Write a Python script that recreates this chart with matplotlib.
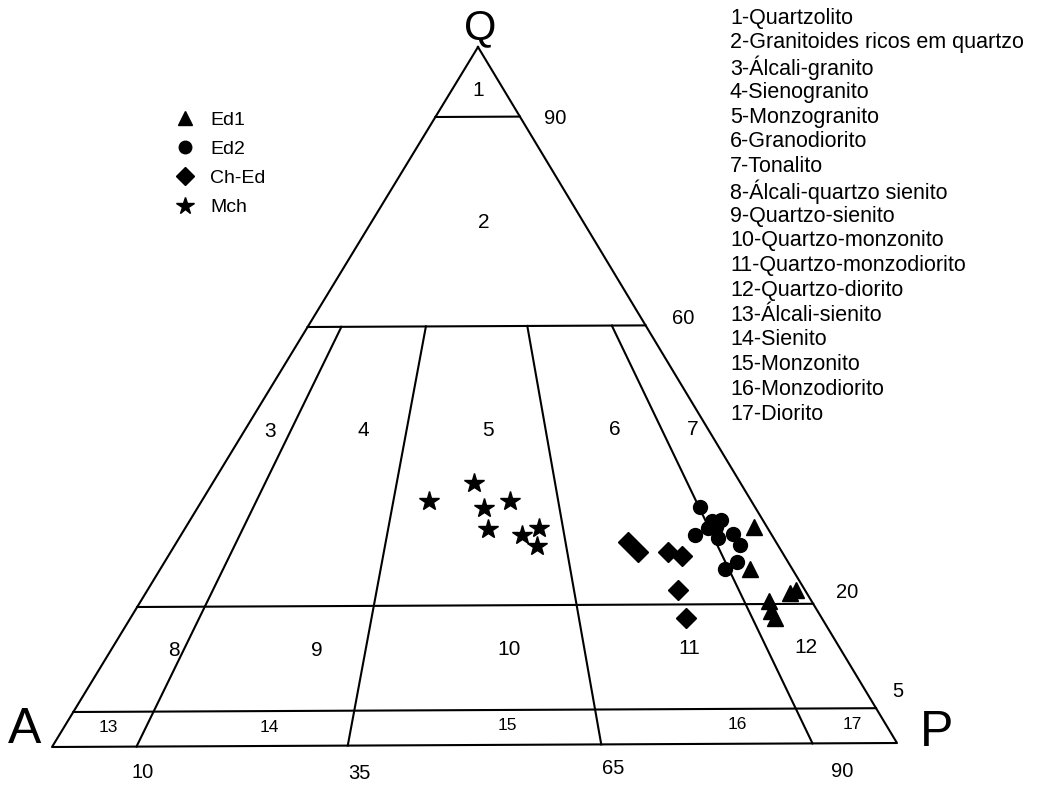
import numpy as np
import matplotlib
matplotlib.use('Agg')
from matplotlib import pyplot as plt
from matplotlib.lines import Line2D

plt.rcParams['font.family'] = ['Liberation Sans', 'DejaVu Sans']

# ternary data, percent (Q, A, P)
ed1_q = [31, 25, 22, 21.5, 20.5, 19, 18]
ed1_a = [1.5, 5, 1, 2, 5, 5.5, 5.5]
ed1_p = [67.5, 70, 77, 76.5, 74.5, 75.5, 76.5]

ed2_q = [34, 32, 32, 31, 31, 30, 29.5, 30, 28.5, 26, 25]
ed2_a = [6.5, 6, 5, 7, 6, 9, 6.5, 4.5, 4.5, 6, 8]
ed2_p = [59.5, 62, 63, 62, 63, 61, 64, 65.5, 67, 68, 67]

ched_q = [29, 27.5, 27.5, 27, 22, 18]
ched_a = [17.5, 17, 13.5, 12, 15, 16]
ched_p = [53.5, 55.5, 59, 61, 63, 66]

mch_q = [35, 37.5, 34, 35, 31, 30, 31, 28.5]
mch_a = [38, 31.5, 32, 28.5, 33, 29.5, 27, 28.5]
mch_p = [27, 31, 34, 36.5, 36, 40.5, 42, 43]

q_levels = [90, 60, 20, 5]
ratios = [10, 35, 65, 90]
names = ['Quartzolito', 'Granitoides ricos em quartzo', 'Álcali-granito',
         'Sienogranito', 'Monzogranito', 'Granodiorito', 'Tonalito',
         'Álcali-quartzo sienito', 'Quartzo-sienito', 'Quartzo-monzonito',
         'Quartzo-monzodiorito', 'Quartzo-diorito', 'Álcali-sienito',
         'Sienito', 'Monzonito', 'Monzodiorito', 'Diorito']

# vertex positions in pixels
VQ = np.array([478., 47.])
VA = np.array([52., 747.])
VP = np.array([897., 743.])


def tern(q, a, p):
    q = np.asarray(q, float); a = np.asarray(a, float); p = np.asarray(p, float)
    s = q + a + p
    x = (q * VQ[0] + a * VA[0] + p * VP[0]) / s
    y = (q * VQ[1] + a * VA[1] + p * VP[1]) / s
    return x, y


def tern_r(q, r):
    # point at quartz level q with P/(A+P) = r (percent)
    rest = 100 - q
    return tern(q, rest * (100 - r) / 100, rest * r / 100)


fig = plt.figure(figsize=(10.43, 7.88), dpi=100)
ax = fig.add_axes([0, 0, 1, 1])
ax.set_xlim(0, 1043)
ax.set_ylim(788, 0)
ax.axis('off')

lw = 1.5
# outline
x, y = tern([100, 0, 0, 100], [0, 100, 0, 0], [0, 0, 100, 0])
ax.plot(x, y, color='black', lw=lw)
for q in q_levels:
    x, y = tern([q, q], [100 - q, 0], [0, 100 - q])
    ax.plot(x, y, color='black', lw=lw)
for r in ratios:
    x0, y0 = tern_r(60, r)
    x1, y1 = tern_r(0, r)
    ax.plot([x0, x1], [y0, y1], color='black', lw=lw)

# field numbers (placed at quartz level, P/(A+P))
fields = [(1, 93.8, 50), (2, 74.8, 53),
          (3, 45.1, 5.6), (4, 45.1, 25.6), (5, 45.1, 52.6), (6, 45.1, 80),
          (7, 45.1, 96.8),
          (8, 13.7, 8.7), (9, 13.7, 28.3), (10, 13.7, 54.7), (11, 13.7, 79.4),
          (12, 13.7, 95.4)]
for n, q, r in fields:
    x, y = tern_r(q, r)
    ax.text(x, y, str(n), fontsize=15, ha='center', va='center')
small = [(13, 2.7, 5.5), (14, 2.7, 25), (15, 2.7, 54), (16, 2.7, 82), (17, 2.7, 95.9)]
for n, q, r in small:
    x, y = tern_r(q, r)
    ax.text(x, y, str(n), fontsize=12.5, ha='center', va='center')

# scale labels
for q, dx, dy in zip(q_levels, [35, 38, 34, 22], [1.5, -7, -11, -17]):
    x, y = tern(q, 0, 100 - q)
    ax.text(x + dx, y + dy, str(q), fontsize=14.5, ha='center', va='center')
for r, dx, dy in zip(ratios, [6, 12, 12, 30], [26, 28, 24, 28]):
    x, y = tern_r(0, r)
    ax.text(x + dx, y + dy, str(r), fontsize=14.5, ha='center', va='center')

ax.text(VQ[0] + 2, VQ[1] - 19, 'Q', fontsize=30, ha='center', va='center')
ax.text(VA[0] - 27, VA[1] - 17, 'A', fontsize=36, ha='center', va='center')
ax.text(VP[0] + 40, VP[1] - 10, 'P', fontsize=36, ha='center', va='center')

# samples
ax.plot(*tern(ed1_q, ed1_a, ed1_p), '^', color='black', ms=12, ls='none', zorder=3)
ax.plot(*tern(ed2_q, ed2_a, ed2_p), 'o', color='black', ms=10, ls='none', zorder=3)
ax.plot(*tern(ched_q, ched_a, ched_p), 'D', color='black', ms=10.5, ls='none', zorder=3)
ax.plot(*tern(mch_q, mch_a, mch_p), '*', color='black', ms=15, ls='none', zorder=3)

handles = [Line2D([], [], marker='^', color='black', ls='none', ms=10),
           Line2D([], [], marker='o', color='black', ls='none', ms=9),
           Line2D([], [], marker='D', color='black', ls='none', ms=9),
           Line2D([], [], marker='*', color='black', ls='none', ms=13)]
ax.legend(handles, ['Ed1', 'Ed2', 'Ch-Ed', 'Mch'], loc='upper left',
          bbox_to_anchor=(177 / 1043, 1 - 111 / 788), frameon=False,
          fontsize=14, handlelength=0.8, handletextpad=0.9,
          labelspacing=0.6, borderpad=0, borderaxespad=0)

# names list
for i, nm in enumerate(names):
    ax.text(730, 18 + i * 24.75, f'{i + 1}-{nm}', fontsize=15.5,
            ha='left', va='center')

plt.savefig('out.png', dpi=100)
